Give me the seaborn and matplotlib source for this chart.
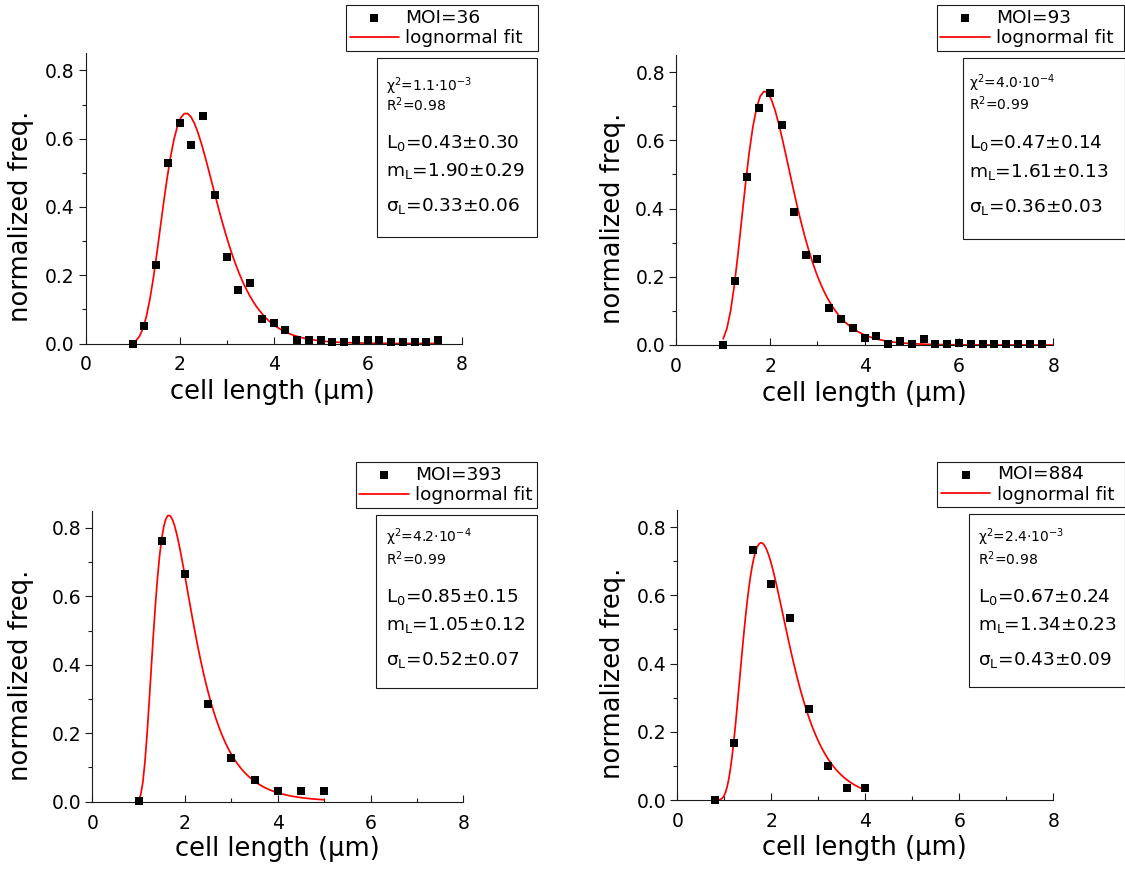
import numpy as np
import pandas as pd
import matplotlib
matplotlib.use("Agg")
import matplotlib.pyplot as plt
from matplotlib.patches import Rectangle
import seaborn as sns

# ---- measured cell-length distributions (normalized frequency) ----
moi_labels = ["MOI=36", "MOI=93", "MOI=393", "MOI=884"]

len_36 = [1.0, 1.25, 1.5, 1.75, 2.0, 2.25, 2.5, 2.75, 3.0, 3.25, 3.5, 3.75, 4.0,
          4.25, 4.5, 4.75, 5.0, 5.25, 5.5, 5.75, 6.0, 6.25, 6.5, 6.75, 7.0, 7.25, 7.5]
freq_36 = [0.0, 0.051, 0.231, 0.528, 0.645, 0.582, 0.667, 0.435, 0.253, 0.157, 0.178,
           0.072, 0.06, 0.04, 0.01, 0.01, 0.01, 0.005, 0.003, 0.01, 0.01, 0.01, 0.003,
           0.003, 0.003, 0.003, 0.01]

len_93 = [1.0, 1.25, 1.5, 1.75, 2.0, 2.25, 2.5, 2.75, 3.0, 3.25, 3.5, 3.75, 4.0, 4.25,
          4.5, 4.75, 5.0, 5.25, 5.5, 5.75, 6.0, 6.25, 6.5, 6.75, 7.0, 7.25, 7.5, 7.75]
freq_93 = [0.0, 0.188, 0.493, 0.696, 0.740, 0.645, 0.391, 0.265, 0.253, 0.107, 0.076,
           0.050, 0.020, 0.026, 0.004, 0.013, 0.002, 0.019, 0.002, 0.002, 0.007, 0.002,
           0.002, 0.002, 0.002, 0.002, 0.002, 0.002]

len_393 = [1.0, 1.5, 2.0, 2.5, 3.0, 3.5, 4.0, 4.5, 5.0]
freq_393 = [0.003, 0.762, 0.666, 0.286, 0.127, 0.063, 0.032, 0.032, 0.032]

len_884 = [0.8, 1.2, 1.6, 2.0, 2.4, 2.8, 3.2, 3.6, 4.0]
freq_884 = [0.0, 0.166, 0.734, 0.634, 0.534, 0.266, 0.100, 0.034, 0.034]

lengths = [len_36, len_93, len_393, len_884]
freqs = [freq_36, freq_93, freq_393, freq_884]

# ---- shifted lognormal fit results ----
fit_L0 = [0.43, 0.47, 0.85, 0.67]
fit_L0_err = [0.30, 0.14, 0.15, 0.24]
fit_mL = [1.90, 1.61, 1.05, 1.34]
fit_mL_err = [0.29, 0.13, 0.12, 0.23]
fit_sL = [0.33, 0.36, 0.52, 0.43]
fit_sL_err = [0.06, 0.03, 0.07, 0.09]
fit_peak = [0.675, 0.744, 0.837, 0.754]
fit_start = [1.0, 1.0, 1.0, 0.85]
fit_end = [7.5, 8.0, 5.0, 4.0]
chi2_mant = [1.1, 4.0, 4.2, 2.4]
chi2_exp = [-3, -4, -4, -3]
r_squared = [0.98, 0.99, 0.99, 0.98]

# ---- layout (figure pixels) ----
W, H = 1125, 871
axes_px = [(85.7, 53.3, 461.7, 343.5), (676.0, 55.0, 1053.3, 345.0),
           (92.3, 510.7, 463.3, 801.7), (677.3, 510.0, 1053.3, 800.0)]
legend_px = [(346.0, 5.0, 537.7, 57.7), (936.7, 5.0, 1124.3, 58.0),
             (355.7, 462.3, 537.3, 515.0), (937.3, 461.7, 1124.5, 514.0)]
stats_px = [(376.7, 57.7, 537.3, 236.7), (963.3, 58.0, 1124.5, 239.3),
            (375.7, 515.0, 537.3, 687.7), (969.3, 514.0, 1124.5, 687.3)]
stats_left = [385.7, 969.3, 385.7, 978.3]
stats_base = [[90.7, 111.0, 148.3, 175.7, 210.7], [87.7, 110.0, 148.3, 176.7, 212.3],
              [542.3, 565.0, 602.3, 630.0, 665.0], [541.7, 565.0, 602.3, 630.0, 665.0]]
ylab_px = [(34, 216), (626, 218), (34, 675), (626, 673)]
xlab_px = [(272, 379), (864, 381), (277, 836), (864, 835)]

sns.set_style("ticks")
plt.rcParams.update({
    "font.family": ["DejaVu Sans"],
    "mathtext.default": "regular",
    "axes.linewidth": 0.8,
    "axes.edgecolor": "#1a1a1a",
    "text.color": "black",
    "axes.labelcolor": "black",
    "xtick.color": "#1a1a1a",
    "ytick.color": "#1a1a1a",
    "xtick.labelcolor": "black",
    "ytick.labelcolor": "black",
})


def fx(px):
    return px / W


def fy(py):
    return 1 - py / H


def lognormal_fit(x, L0, mL, sL, peak):
    s = x - L0
    prof = np.exp(-np.log(s / mL) ** 2 / (2 * sL ** 2)) / s
    grid = np.linspace(L0 + 1e-3, L0 + 6 * mL, 4000)
    gprof = np.exp(-np.log((grid - L0) / mL) ** 2 / (2 * sL ** 2)) / (grid - L0)
    return peak * prof / gprof.max()


fig = plt.figure(figsize=(W / 100, H / 100), dpi=100)

for i in range(4):
    l, t, r, b = axes_px[i]
    ax = fig.add_axes([fx(l), fy(b), fx(r) - fx(l), fy(t) - fy(b)])

    df = pd.DataFrame({"length": lengths[i], "freq": freqs[i]})
    xf = np.linspace(fit_start[i], fit_end[i], 90)
    fit_df = pd.DataFrame({"length": xf,
                           "freq": lognormal_fit(xf, fit_L0[i], fit_mL[i], fit_sL[i], fit_peak[i])})

    sns.lineplot(data=fit_df, x="length", y="freq", ax=ax, color="#ff0000",
                 linewidth=1.25, sort=False, estimator=None, zorder=2)
    sns.scatterplot(data=df, x="length", y="freq", ax=ax, marker="s", s=30,
                    color="black", linewidth=0, zorder=3, clip_on=False)

    ax.set_xlim(0, 8)
    ax.set_ylim(0, 0.85)
    ax.set_xticks([0, 2, 4, 6, 8])
    ax.set_xticks([1, 3, 5, 7], minor=True)
    ax.set_yticks([0.0, 0.2, 0.4, 0.6, 0.8])
    ax.set_yticks([0.1, 0.3, 0.5, 0.7], minor=True)
    ax.set_xticklabels(["0", "2", "4", "6", "8"])
    ax.set_yticklabels(["0.0", "0.2", "0.4", "0.6", "0.8"])
    ax.tick_params(axis="y", which="major", direction="out", length=5, width=0.8,
                   labelsize=13.5, pad=3)
    ax.tick_params(axis="y", which="minor", direction="out", length=3, width=0.8)
    ax.tick_params(axis="x", which="major", direction="in", length=5, width=0.8,
                   labelsize=13.5, pad=8.5)
    ax.tick_params(axis="x", which="minor", direction="in", length=3, width=0.8)
    sns.despine(ax=ax)

    ax.set_xlabel("cell length (µm)", fontsize=18.5, color="black")
    ax.set_ylabel("normalized freq.", fontsize=18.5, color="black")
    ax.xaxis.set_label_coords(fx(xlab_px[i][0]), fy(xlab_px[i][1]), transform=fig.transFigure)
    ax.yaxis.set_label_coords(fx(ylab_px[i][0]), fy(ylab_px[i][1]), transform=fig.transFigure)

    # legend box
    lx0, ly0, lx1, ly1 = legend_px[i]
    handles = [ax.collections[0], ax.lines[0]]
    leg = ax.legend(handles, [moi_labels[i], "lognormal fit"],
                    loc="upper left",
                    bbox_to_anchor=(fx(lx0), fy(ly1), fx(lx1) - fx(lx0), fy(ly0) - fy(ly1)),
                    bbox_transform=fig.transFigure, mode="expand",
                    fontsize=13.3, frameon=True, fancybox=False, shadow=False,
                    borderpad=0.2, handlelength=2.67, handletextpad=0.35,
                    labelspacing=0.13, borderaxespad=0, scatterpoints=1,
                    labelcolor="black")
    leg.get_frame().set_edgecolor("#1a1a1a")
    leg.get_frame().set_linewidth(0.8)
    leg.get_frame().set_alpha(1)

    # fit statistics box
    sx0, sy0, sx1, sy1 = stats_px[i]
    fig.add_artist(Rectangle((fx(sx0), fy(sy1)), fx(sx1) - fx(sx0), fy(sy0) - fy(sy1),
                             transform=fig.transFigure, facecolor="white",
                             edgecolor="#1a1a1a", linewidth=0.8))
    lines = [
        (f"χ$^2$={chi2_mant[i]:.1f}·10$^{{{chi2_exp[i]}}}$", 10),
        (f"R$^2$={r_squared[i]:.2f}", 10),
        (f"L$_0$={fit_L0[i]:.2f}±{fit_L0_err[i]:.2f}", 13.3),
        (f"m$_L$={fit_mL[i]:.2f}±{fit_mL_err[i]:.2f}", 13.3),
        (f"σ$_L$={fit_sL[i]:.2f}±{fit_sL_err[i]:.2f}", 13.3),
    ]
    for (txt, fs), base in zip(lines, stats_base[i]):
        fig.text(fx(stats_left[i]), fy(base), txt, fontsize=fs, ha="left",
                 va="baseline", color="black")

fig.savefig("out.png", dpi=100)
